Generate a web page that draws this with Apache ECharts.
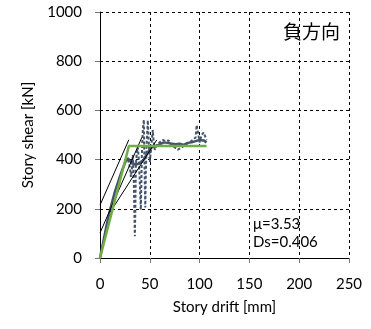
<!DOCTYPE html>
<html>
<head>
<meta charset="utf-8">
<script src="https://cdn.jsdelivr.net/npm/echarts@6/dist/echarts.min.js"></script>
<style>
  html, body { margin: 0; padding: 0; background: #fff; }
  #chart { width: 371px; height: 329px; }
</style>
</head>
<body>
<div id="chart"></div>
<script>
// Story drift [mm] vs story shear [kN], negative loading direction

// backbone trace of the measured response
const backboneDrift = [0, 3, 7, 11, 15, 19, 23, 26, 28, 30, 32, 36, 40, 44, 48, 52, 56, 60, 64, 68, 72, 76, 80, 84, 88, 92, 96, 100, 104, 107];
const backboneShear = [0, 60, 140, 210, 270, 320, 365, 395, 405, 395, 385, 380, 385, 400, 430, 450, 455, 462, 470, 468, 465, 462, 465, 460, 468, 470, 475, 480, 478, 470];

// cyclic excursions of the measured response
const cycleDrift = [28, 30, 31, 32, 33, 34, 35, 35.5, 36, 37, 38, 39, 40, 41, 41.5, 42, 43, 44, 44.5, 45, 45.5, 46, 47, 48, 49, 50, 51, 52, 53, 54, 55, 57, 60, 63, 66, 69, 72, 75, 78, 80, 83, 86, 90, 93, 96, 97, 98, 100, 102, 104, 106, 107];
const cycleShear = [400, 370, 330, 360, 420, 300, 88, 200, 380, 430, 450, 400, 300, 196, 300, 420, 520, 562, 420, 300, 205, 350, 480, 560, 470, 390, 430, 480, 520, 470, 440, 460, 470, 480, 475, 478, 455, 450, 440, 445, 452, 462, 470, 480, 490, 540, 520, 470, 500, 510, 490, 480];

// stiffness tangent lines
const tangentA = [[0, 215], [29, 481]];
const tangentB = [[0, 102], [42, 490]];
const tangentC = [[10, 185], [57, 480]];

// bilinear idealisation
const bilinearDrift = [0, 29, 107];
const bilinearShear = [0, 455, 455];

// axis ticks
const driftTicks = [0, 50, 100, 150, 200, 250];
const shearTicks = [0, 200, 400, 600, 800, 1000];

const ductility = 'μ=3.53';
const dsValue = 'Ds=0.406';
const directionLabel = '負方向';

const zip = (xs, ys) => xs.map((x, i) => [x, ys[i]]);

const FONT = 'Lato, "Liberation Sans", sans-serif';
const SLATE = '#44546A';

const chart = echarts.init(document.getElementById('chart'), null, { renderer: 'canvas' });

const splitStyle = { show: true, lineStyle: { color: '#000', type: [3, 3], width: 1 } };

chart.setOption({
  animation: false,
  backgroundColor: '#fff',
  grid: { left: 100, right: 22, top: 12, bottom: 71, containLabel: false },
  xAxis: {
    type: 'value',
    min: driftTicks[0],
    max: driftTicks[driftTicks.length - 1],
    interval: driftTicks[1] - driftTicks[0],
    name: 'Story drift [mm]',
    nameLocation: 'middle',
    nameGap: 42,
    nameTextStyle: { fontFamily: FONT, fontSize: 15, color: '#000' },
    axisLine: { lineStyle: { color: '#000', width: 1 } },
    axisTick: { show: true, inside: false, length: 5, lineStyle: { color: '#777' } },
    axisLabel: { margin: 19, fontFamily: FONT, fontSize: 15, color: '#000', formatter: v => String(v) },
    splitLine: splitStyle
  },
  yAxis: {
    type: 'value',
    min: shearTicks[0],
    max: shearTicks[shearTicks.length - 1],
    interval: shearTicks[1] - shearTicks[0],
    name: 'Story shear [kN]',
    nameLocation: 'middle',
    nameGap: 64,
    nameRotate: 90,
    nameTextStyle: { fontFamily: FONT, fontSize: 15, color: '#000' },
    axisLine: { show: true, lineStyle: { color: '#000', width: 1 } },
    axisTick: { show: true, inside: false, length: 5, lineStyle: { color: '#777' } },
    axisLabel: { margin: 18, fontFamily: FONT, fontSize: 15, color: '#000', formatter: v => String(v) },
    splitLine: splitStyle
  },
  series: [
    {
      type: 'line',
      data: zip(cycleDrift, cycleShear),
      showSymbol: false,
      lineStyle: { color: SLATE, width: 2, type: [3, 2] },
      z: 2
    },
    {
      type: 'line',
      data: zip(backboneDrift, backboneShear),
      showSymbol: false,
      lineStyle: { color: SLATE, width: 2.5 },
      z: 3
    },
    {
      type: 'line', data: tangentA, showSymbol: false,
      lineStyle: { color: '#000', width: 1 }, z: 4
    },
    {
      type: 'line', data: tangentB, showSymbol: false,
      lineStyle: { color: '#000', width: 1 }, z: 4
    },
    {
      type: 'line', data: tangentC, showSymbol: false,
      lineStyle: { color: '#000', width: 1 }, z: 4
    },
    {
      type: 'line',
      data: zip(bilinearDrift, bilinearShear),
      showSymbol: false,
      lineStyle: { color: '#70AD47', width: 2.5 },
      z: 5
    }
  ],
  graphic: [
    {
      type: 'text', left: 283, top: 22, z: 10,
      style: { text: directionLabel, font: '19px "Noto Sans CJK JP"', fill: '#000' }
    },
    {
      type: 'text', left: 253, top: 217, z: 10,
      style: { text: ductility, font: '15px ' + FONT, fill: '#000' }
    },
    {
      type: 'text', left: 253, top: 235, z: 10,
      style: { text: dsValue, font: '15px ' + FONT, fill: '#000' }
    }
  ]
});
</script>
</body>
</html>
